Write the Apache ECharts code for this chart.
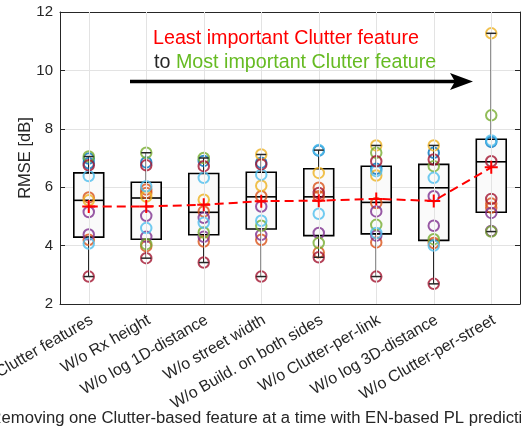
<!DOCTYPE html>
<html>
<head>
<meta charset="utf-8">
<script src="https://cdn.jsdelivr.net/npm/echarts@6/dist/echarts.min.js"></script>
<style>
  html, body { margin: 0; padding: 0; background: #ffffff; }
  #chart { width: 521px; height: 427px; }
</style>
</head>
<body>
<div id="chart"></div>
<script>
// Feature-ablation RMSE distributions (one box per feature set)
const categories = [
  'Clutter features',
  'W/o Rx height',
  'W/o log 1D-distance',
  'W/o street width',
  'W/o Build. on both sides',
  'W/o Clutter-per-link',
  'W/o log 3D-distance',
  'W/o Clutter-per-street'
];
const yTicks = [2, 4, 6, 8, 10, 12];

// Box statistics per feature set
const lowerQuartiles = [4.29, 4.22, 4.37, 4.57, 4.34, 4.40, 4.18, 5.14];
const medians        = [5.55, 5.63, 5.14, 5.67, 5.67, 5.48, 5.98, 6.87];
const upperQuartiles = [6.49, 6.17, 6.47, 6.51, 6.63, 6.72, 6.78, 7.64];
const meanRmse       = [5.34, 5.34, 5.40, 5.52, 5.54, 5.60, 5.53, 6.68];

// Individual runs: RMSE values and colour code of each run
// (B blue, O orange, Y yellow, P purple, G green, L light blue, R dark red)
const runRmse = [
  [7.05, 6.98, 6.82, 6.75, 6.38, 5.65, 5.55, 5.15, 4.38, 4.20, 4.07, 2.94],
  [7.18, 6.85, 6.75, 6.03, 5.92, 5.80, 5.68, 5.02, 4.60, 4.30, 4.05, 3.98, 3.57],
  [7.00, 6.90, 6.72, 6.32, 5.57, 5.17, 4.95, 4.78, 4.45, 4.30, 4.14, 3.42],
  [7.12, 6.84, 6.78, 6.43, 6.05, 5.69, 5.34, 4.85, 4.68, 4.37, 4.20, 2.94],
  [7.27, 7.25, 6.49, 5.98, 5.80, 5.69, 5.09, 4.43, 4.09, 3.76, 3.60],
  [7.43, 7.18, 6.89, 6.63, 6.55, 6.40, 5.46, 5.17, 4.71, 4.43, 4.34, 4.11, 2.94],
  [7.43, 7.18, 6.95, 6.72, 6.32, 5.69, 4.68, 4.22, 4.09, 4.00, 2.69],
  [11.27, 8.46, 7.60, 7.55, 6.89, 5.60, 5.44, 5.30, 5.12, 4.50, 4.48]
];
const runColorCodes = [
  'GBBRLOYPPOLR',
  'GBRLOOYPLPGOR',
  'GBRLYOPLGPOR',
  'YBRLYOPLGPOR',
  'LBYOROLPGOR',
  'YGRBLYOPGLPOR',
  'YBRGLPPGOLR',
  'YGLBRROOPPG'
];

const palette = {
  B: '#0072BD', O: '#D95319', Y: '#EDB120', P: '#7E2F8E',
  G: '#77AC30', L: '#4DBEEE', R: '#A2142F'
};

const FONT = '"Liberation Sans", Arial, Helvetica, sans-serif';
const INK = '#262626';

// Rows for the box series: [index, min, q1, median, q3, max]
const boxRows = categories.map((c, i) => [
  i,
  Math.min(...runRmse[i]),
  lowerQuartiles[i],
  medians[i],
  upperQuartiles[i],
  Math.max(...runRmse[i])
]);

// One scatter series per run colour
const scatterSeries = Object.keys(palette).map(code => {
  const pts = [];
  runRmse.forEach((vals, i) => {
    vals.forEach((v, k) => {
      if (runColorCodes[i][k] === code) pts.push([i, v]);
    });
  });
  return {
    type: 'scatter',
    z: 4,
    symbol: 'circle',
    symbolSize: 10.5,
    silent: true,
    itemStyle: { color: 'transparent', borderColor: palette[code], borderWidth: 2 },
    data: pts
  };
});

function renderBox(params, api) {
  const i = api.value(0);
  const pLo = api.coord([i, api.value(1)]);
  const pQ1 = api.coord([i, api.value(2)]);
  const pMed = api.coord([i, api.value(3)]);
  const pQ3 = api.coord([i, api.value(4)]);
  const pHi = api.coord([i, api.value(5)]);
  const band = api.size([1, 0])[0];
  const w = band * 0.52;
  const x = pLo[0];
  return {
    type: 'group',
    children: [
      { type: 'line', shape: { x1: x, y1: pLo[1], x2: x, y2: pQ1[1] },
        style: { stroke: INK, lineWidth: 1.5 } },
      { type: 'line', shape: { x1: x, y1: pQ3[1], x2: x, y2: pHi[1] },
        style: { stroke: INK, lineWidth: 1.5 } },
      { type: 'rect', shape: { x: x - w / 2, y: pQ3[1], width: w, height: pQ1[1] - pQ3[1] },
        style: { fill: '#FAFAFA', stroke: '#000000', lineWidth: 1.6 } },
      { type: 'line', shape: { x1: x - w / 2, y1: pMed[1], x2: x + w / 2, y2: pMed[1] },
        style: { stroke: '#000000', lineWidth: 1.6 } }
    ]
  };
}

function renderCaps(params, api) {
  const i = api.value(0);
  const pLo = api.coord([i, api.value(1)]);
  const pHi = api.coord([i, api.value(5)]);
  const half = 5;
  const x = pLo[0];
  return {
    type: 'group',
    children: [
      { type: 'line', shape: { x1: x - half, y1: pLo[1], x2: x + half, y2: pLo[1] },
        style: { stroke: INK, lineWidth: 1.5 } },
      { type: 'line', shape: { x1: x - half, y1: pHi[1], x2: x + half, y2: pHi[1] },
        style: { stroke: INK, lineWidth: 1.5 } }
    ]
  };
}

const chart = echarts.init(document.getElementById('chart'), null, { renderer: 'canvas' });

const gridLine = { lineStyle: { color: '#E3E3E3', width: 1 } };

chart.setOption({
  animation: false,
  backgroundColor: '#ffffff',
  grid: { left: 60, right: 1, top: 12, bottom: 123, containLabel: false },
  xAxis: [
    {
      type: 'category',
      data: categories,
      boundaryGap: true,
      axisLine: { lineStyle: { color: INK, width: 1 } },
      axisTick: { inside: true, alignWithLabel: true, length: 5, lineStyle: { color: INK } },
      // category names are drawn as slanted text below (see tickLabels)
      axisLabel: { show: false },
      splitLine: { show: false }
    },
    {
      type: 'category',
      data: categories,
      position: 'top',
      boundaryGap: true,
      axisLine: { lineStyle: { color: INK, width: 1 } },
      axisTick: { inside: true, alignWithLabel: true, length: 5, lineStyle: { color: INK } },
      axisLabel: { show: false },
      splitLine: { show: false }
    }
  ],
  yAxis: [
    {
      type: 'value',
      min: yTicks[0],
      max: yTicks[yTicks.length - 1],
      interval: 2,
      axisLine: { show: true, lineStyle: { color: INK, width: 1 } },
      axisTick: { show: true, inside: true, length: 5, lineStyle: { color: INK } },
      axisLabel: { margin: 7, fontSize: 15, fontFamily: FONT, color: INK },
      splitLine: Object.assign({ show: true }, gridLine)
    },
    {
      type: 'value',
      position: 'right',
      min: yTicks[0],
      max: yTicks[yTicks.length - 1],
      interval: 2,
      axisLine: { show: true, lineStyle: { color: INK, width: 1 } },
      axisTick: { show: true, inside: true, length: 5, lineStyle: { color: INK } },
      axisLabel: { show: false },
      splitLine: { show: false }
    }
  ],
  series: [
    {
      // vertical grid lines at each feature set
      type: 'line',
      z: 1,
      data: [],
      silent: true,
      markLine: {
        silent: true,
        symbol: ['none', 'none'],
        label: { show: false },
        lineStyle: { color: '#E3E3E3', width: 1, type: 'solid' },
        data: categories.map((c, i) => ({ xAxis: i }))
      }
    },
    {
      type: 'custom',
      z: 2,
      silent: true,
      renderItem: renderBox,
      encode: { x: 0, y: [1, 2, 3, 4, 5] },
      data: boxRows
    },
    ...scatterSeries,
    {
      type: 'custom',
      z: 5,
      silent: true,
      renderItem: renderCaps,
      encode: { x: 0, y: [1, 5] },
      data: boxRows
    },
    {
      type: 'line',
      z: 6,
      silent: true,
      data: meanRmse,
      symbol: 'path://M0,-10 L0,10 M-10,0 L10,0',
      symbolSize: 13,
      itemStyle: { color: '#FF0000', borderColor: '#FF0000', borderWidth: 2 },
      lineStyle: { color: '#FF0000', width: 2, type: [9, 5] }
    }
  ]
});

// Slanted category names: right end anchored just below each tick
const axisY = chart.convertToPixel({ yAxisIndex: 0 }, yTicks[0]);
const tickLabels = categories.map((name, i) => ({
  type: 'text',
  x: chart.convertToPixel({ xAxisIndex: 0 }, i) + 3,
  y: axisY + 15,
  rotation: Math.PI / 6,
  z: 10,
  silent: true,
  style: { text: name, fill: INK, fontSize: 16, fontFamily: FONT, align: 'right', verticalAlign: 'middle' }
}));

chart.setOption({
  graphic: [
    ...tickLabels,
    {
      type: 'text', x: 25, y: 158, rotation: Math.PI / 2, z: 10,
      style: { text: 'RMSE [dB]', fill: INK, fontSize: 16.5, fontFamily: FONT,
               align: 'center', verticalAlign: 'middle' }
    },
    {
      type: 'text', x: -10.5, y: 418, z: 10,
      style: { text: 'Removing one Clutter-based feature at a time with EN-based PL prediction',
               fill: INK, fontSize: 16.65, fontFamily: FONT, align: 'left', verticalAlign: 'middle' }
    },
    {
      type: 'text', x: 153, y: 39, z: 10,
      style: { text: 'Least important Clutter feature', fill: '#FF0000', fontSize: 19.7, fontFamily: FONT,
               align: 'left', verticalAlign: 'middle' }
    },
    {
      type: 'text', x: 154, y: 63, z: 10,
      style: {
        text: '{k|to }{g|Most important Clutter feature}',
        fontSize: 19.7, fontFamily: FONT, align: 'left', verticalAlign: 'middle',
        rich: {
          k: { fill: INK, fontSize: 19.7, fontFamily: FONT },
          g: { fill: '#66BB22', fontSize: 19.7, fontFamily: FONT }
        }
      }
    },
    {
      type: 'line', z: 10,
      shape: { x1: 130, y1: 81.5, x2: 456, y2: 81.5 },
      style: { stroke: '#000000', lineWidth: 3.5 }
    },
    {
      type: 'polygon', z: 10,
      shape: { points: [[473, 81.5], [450, 73], [455, 81.5], [450, 90]] },
      style: { fill: '#000000' }
    }
  ]
});
</script>
</body>
</html>
